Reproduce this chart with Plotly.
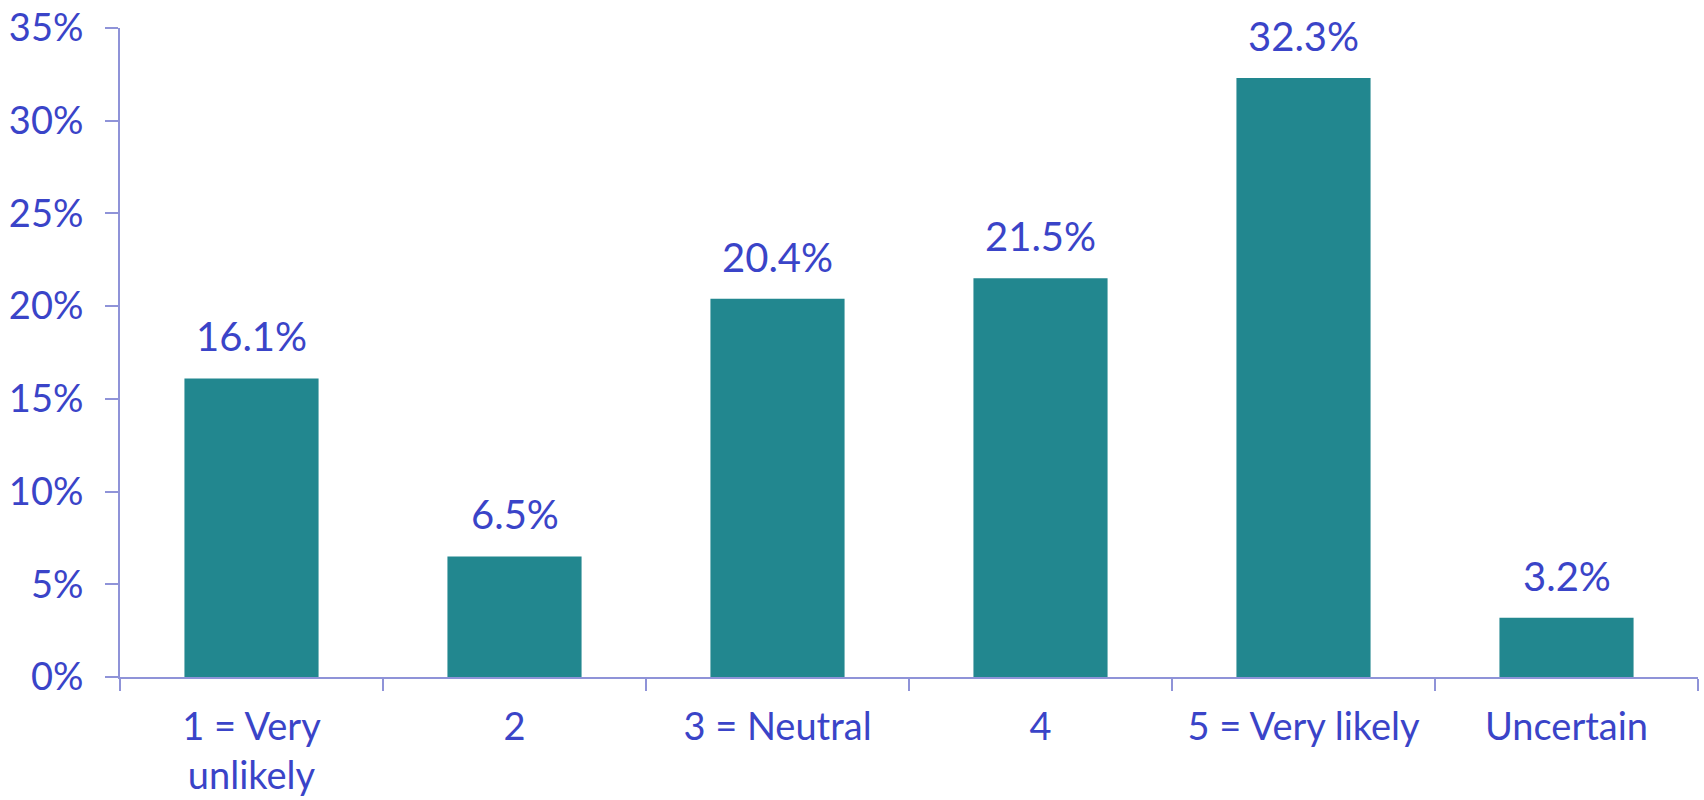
import plotly.graph_objects as go

categories = ["1 = Very<br>unlikely", "2", "3 = Neutral", "4", "5 = Very likely", "Uncertain"]
values = [16.1, 6.5, 20.4, 21.5, 32.3, 3.2]
labels = ["16.1%", "6.5%", "20.4%", "21.5%", "32.3%", "3.2%"]
y_ticks = [0, 5, 10, 15, 20, 25, 30, 35]
y_ticktext = ["0%", "5%", "10%", "15%", "20%", "25%", "30%", "35%"]

TEXT = "#3a44c8"
AXIS = "#8f93d8"
BAR = "#22878f"
FONT = "Lato, 'Open Sans', sans-serif"

fig = go.Figure()
fig.add_trace(go.Bar(
    x=categories, y=values,
    marker=dict(color=BAR, line=dict(width=0)),
    width=0.51,
    hoverinfo="skip",
))

for i, (v, t) in enumerate(zip(values, labels)):
    fig.add_annotation(x=i, y=v, text=t, showarrow=False, yanchor="bottom",
                       yshift=16, font=dict(family=FONT, size=40, color=TEXT))

fig.update_layout(
    width=1704, height=800,
    margin=dict(l=120, r=6, t=28, b=123),
    plot_bgcolor="white", paper_bgcolor="white",
    showlegend=False,
    font=dict(family=FONT, size=38, color=TEXT),
    xaxis=dict(
        type="category", automargin=False,
        showline=True, linecolor=AXIS, linewidth=2,
        ticks="outside", tickcolor=AXIS, ticklen=12, tickwidth=2,
        tickson="boundaries",
        showgrid=False, zeroline=False,
        tickfont=dict(family=FONT, size=38, color=TEXT),
        ticklabelstandoff=15,
    ),
    yaxis=dict(
        automargin=False,
        range=[0, 35], tickvals=y_ticks, ticktext=y_ticktext,
        showline=True, linecolor=AXIS, linewidth=2,
        ticks="outside", tickcolor=AXIS, ticklen=13, tickwidth=2,
        showgrid=False, zeroline=False,
        tickfont=dict(family=FONT, size=38, color=TEXT),
        ticklabelstandoff=14,
        ticklabeloverflow="allow",
    ),
)

fig.write_html("out.html", config={"displayModeBar": False},
               post_script="document.body.style.margin='0';")
